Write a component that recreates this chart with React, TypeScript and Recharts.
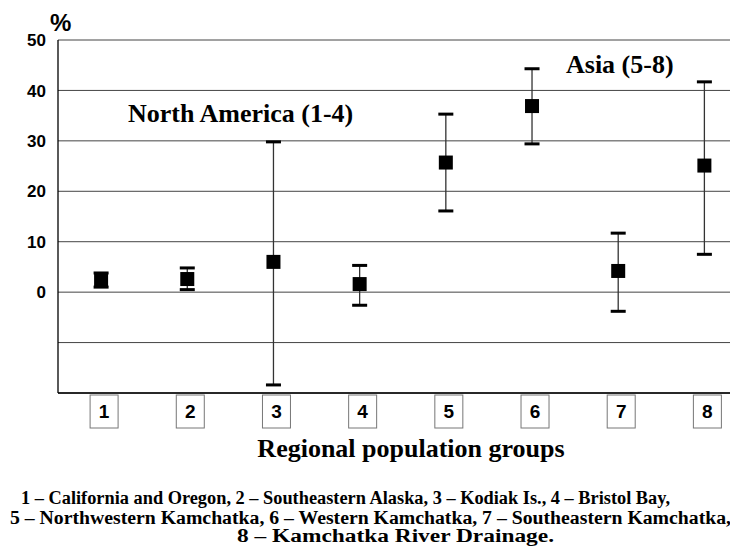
import React from 'react'
import { ComposedChart, Line, XAxis, YAxis, CartesianGrid, ErrorBar } from 'recharts'

// regional groups and their values (%)
const groups = ['1', '2', '3', '4', '5', '6', '7', '8']
const means = [2.4, 2.6, 6.0, 1.6, 25.7, 36.9, 4.2, 25.1]
const lows = [1.0, 0.5, -18.4, -2.6, 16.1, 29.4, -3.8, 7.5]
const highs = [3.8, 4.8, 29.8, 5.3, 35.3, 44.3, 11.7, 41.7]
const yTicks = [-20, -10, 0, 10, 20, 30, 40, 50]
const xTicks = [1, 2, 3, 4, 5, 6, 7, 8]

const captionLines = [
    '1 – California and Oregon, 2 – Southeastern Alaska, 3 – Kodiak Is., 4 – Bristol Bay,',
    '5 – Northwestern Kamchatka, 6 – Western Kamchatka, 7 – Southeastern Kamchatka,',
    '8 – Kamchatka River Drainage.',
]

const data = groups.map((g, i) => ({
    x: i + 1,
    label: g,
    mean: means[i],
    low: lows[i],
    high: highs[i],
    err: [means[i] - lows[i], highs[i] - means[i]],
}))

const SERIF = '"Liberation Serif", "Times New Roman", serif'
const SANS = '"Liberation Sans", Arial, sans-serif'

const YTick = ({ x, y, payload }: any) => {
    if (payload.value < 0) return <g />
    return (
        <text x={x} y={y} dy="0.36em" textAnchor="end" fontFamily={SANS} fontWeight="bold" fontSize={17} fill="#000">
            {payload.value}
        </text>
    )
}

const XTick = ({ x, y, payload }: any) => {
    const cx = x + 3
    return (
        <g>
            <rect x={cx - 14} y={y + 2} width={28} height={33} fill="#fff" stroke="#777" strokeWidth={1} />
            <text x={cx} y={y + 18.5} dy="0.36em" textAnchor="middle" fontFamily={SANS} fontWeight="bold" fontSize={19} fill="#000">
                {groups[payload.value - 1]}
            </text>
        </g>
    )
}

const Cap = (p: any) => (
    <rect key={`c${p.dataKey}${p.index}`} x={p.cx - 7.5} y={p.cy - 1.5} width={15} height={3} fill="#000" />
)

const Square = (p: any) => (
    <rect key={`s${p.index}`} x={p.cx - 7} y={p.cy - 7} width={14} height={14} fill="#000" />
)

export default function App() {
    return (
        <div style={{ position: 'relative', width: 730, height: 538 }}>
            <ComposedChart width={730} height={538} data={data} margin={{ top: 32, right: 0, bottom: 113, left: 0 }}>
                <CartesianGrid vertical={false} stroke="#444" strokeWidth={1} />
                <XAxis
                    type="number"
                    dataKey="x"
                    domain={[0.5, 8.39]}
                    ticks={xTicks}
                    allowDataOverflow
                    axisLine={{ stroke: '#000', strokeWidth: 1.3 }}
                    tickLine={false}
                    tickSize={0}
                    tickMargin={0}
                    height={40}
                    tick={<XTick />}
                    interval={0}
                />
                <YAxis
                    type="number"
                    domain={[-20, 50]}
                    ticks={yTicks}
                    allowDataOverflow
                    axisLine={{ stroke: '#000', strokeWidth: 1.3 }}
                    tickLine={false}
                    tickSize={0}
                    tickMargin={12}
                    width={50}
                    tick={<YTick />}
                    interval={0}
                />
                <Line dataKey="high" stroke="none" dot={Cap} activeDot={false} isAnimationActive={false} legendType="none" />
                <Line dataKey="low" stroke="none" dot={Cap} activeDot={false} isAnimationActive={false} legendType="none" />
                <Line dataKey="mean" stroke="none" dot={Square} activeDot={false} isAnimationActive={false} legendType="none">
                    <ErrorBar dataKey="err" direction="y" width={0} stroke="#333" strokeWidth={1.3} isAnimationActive={false} />
                </Line>
            </ComposedChart>
            <svg width={730} height={538} style={{ position: 'absolute', left: 0, top: 0, pointerEvents: 'none' }}>
                <text x={42} y={23} fontFamily={SANS} fontWeight="bold" fontSize={24} fill="#000">%</text>
                <text x={120} y={114} fontFamily={SERIF} fontWeight="bold" fontSize={26} fill="#000">North America (1-4)</text>
                <text x={558} y={65} fontFamily={SERIF} fontWeight="bold" fontSize={26} fill="#000">Asia (5-8)</text>
                <text x={403} y={449} textAnchor="middle" fontFamily={SERIF} fontWeight="bold" fontSize={26} fill="#000">
                    Regional population groups
                </text>
                <text x={13} y={496} textLength={649} lengthAdjust="spacingAndGlyphs" fontFamily={SERIF} fontWeight="bold" fontSize={18} fill="#000">
                    {captionLines[0]}
                </text>
                <text x={2} y={516} textLength={721} lengthAdjust="spacingAndGlyphs" fontFamily={SERIF} fontWeight="bold" fontSize={18} fill="#000">
                    {captionLines[1]}
                </text>
                <text x={229} y={534} textLength={317} lengthAdjust="spacingAndGlyphs" fontFamily={SERIF} fontWeight="bold" fontSize={18} fill="#000">
                    {captionLines[2]}
                </text>
            </svg>
        </div>
    )
}
